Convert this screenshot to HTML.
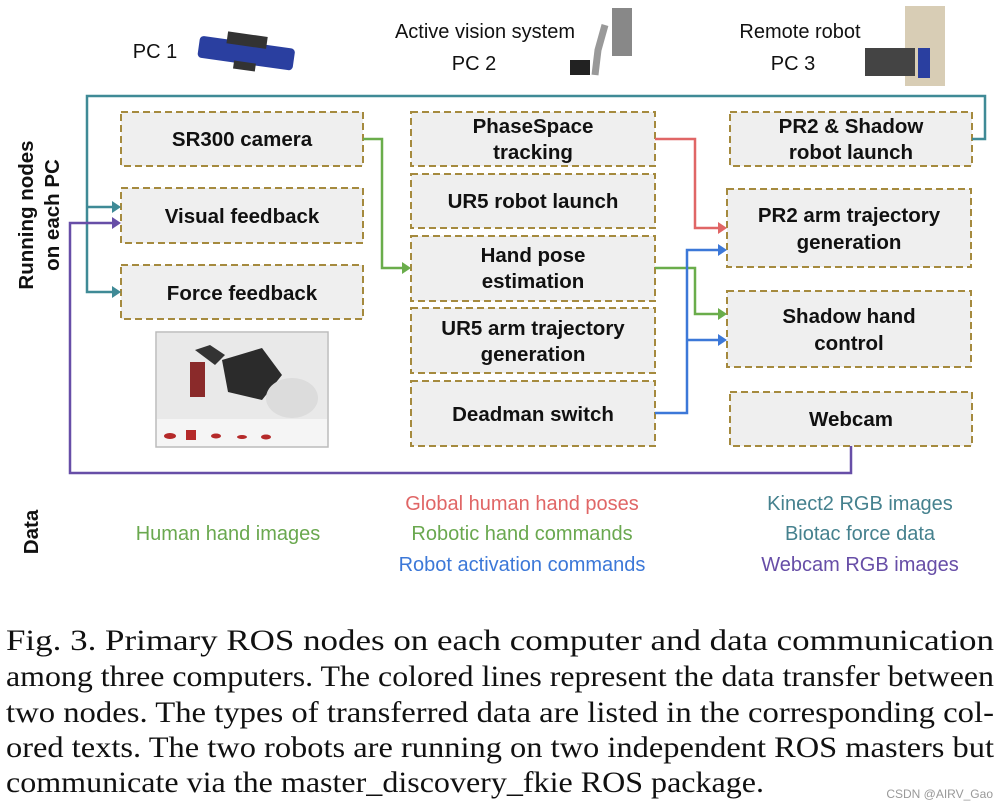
<!DOCTYPE html>
<html><head><meta charset="utf-8"><style>
html,body{margin:0;padding:0;background:#fff;}
svg{display:block;}
.b{fill:#efefef;stroke:#a58a3e;stroke-width:2;stroke-dasharray:7,4;}
.t{font-family:"Liberation Sans",sans-serif;font-weight:bold;font-size:20.5px;fill:#111;text-anchor:middle;}
.h{font-family:"Liberation Sans",sans-serif;font-size:20px;fill:#111;text-anchor:middle;}
.d{font-family:"Liberation Sans",sans-serif;font-size:20px;text-anchor:middle;}
.c{font-family:"Liberation Serif",serif;font-size:30px;fill:#111;}
.l{fill:none;stroke-width:2.5;}
</style></head><body>
<svg width="1003" height="807" viewBox="0 0 1003 807" xmlns="http://www.w3.org/2000/svg">
<!-- header -->
<text class="h" x="155" y="58">PC 1</text>
<g transform="rotate(8 245 55)"><rect x="198" y="42" width="96" height="22" rx="4" fill="#2a3fa0"/><rect x="225" y="34" width="40" height="12" fill="#333"/><rect x="235" y="62" width="22" height="8" fill="#333"/></g>
<text class="h" x="485" y="38">Active vision system</text>
<text class="h" x="474" y="70">PC 2</text>
<rect x="612" y="8" width="20" height="48" fill="#888"/>
<path d="M605,25 L598,50 L595,75" stroke="#999" stroke-width="7" fill="none"/>
<rect x="570" y="60" width="20" height="15" fill="#222"/>
<text class="h" x="800" y="38">Remote robot</text>
<text class="h" x="793" y="70">PC 3</text>
<rect x="905" y="6" width="40" height="80" fill="#d8cdb5"/>
<rect x="865" y="48" width="50" height="28" fill="#444"/>
<rect x="918" y="48" width="12" height="30" fill="#2a3fa0"/>
<!-- side label -->
<text class="t" transform="translate(33,215) rotate(-90)">Running nodes</text>
<text class="t" transform="translate(59,215) rotate(-90)">on each PC</text>
<!-- boxes -->
<rect class="b" x="121" y="112" width="242" height="54"/><text class="t" x="242" y="146">SR300 camera</text>
<rect class="b" x="121" y="188" width="242" height="55"/><text class="t" x="242" y="223">Visual feedback</text>
<rect class="b" x="121" y="265" width="242" height="54"/><text class="t" x="242" y="300">Force feedback</text>
<rect x="156" y="332" width="172" height="115" fill="#f5f5f5" stroke="#bbb" stroke-width="1.5"/>
<rect x="157" y="333" width="170" height="86" fill="#e9e9e9"/>
<path d="M195,350 L210,345 L225,355 L215,365 Z" fill="#333"/>
<rect x="190" y="362" width="15" height="35" fill="#8a2a2a"/>
<path d="M222,360 L262,348 L282,375 L262,400 L228,392 Z" fill="#2b2b2b"/>
<ellipse cx="292" cy="398" rx="26" ry="20" fill="#dcdcdc"/>
<ellipse cx="170" cy="436" rx="6" ry="3" fill="#b52a2a"/><rect x="186" y="430" width="10" height="10" fill="#b52a2a"/>
<ellipse cx="216" cy="436" rx="5" ry="2.5" fill="#b52a2a"/><ellipse cx="242" cy="437" rx="5" ry="2" fill="#b52a2a"/><ellipse cx="266" cy="437" rx="5" ry="2.5" fill="#b52a2a"/>

<rect class="b" x="411" y="112" width="244" height="54"/><text class="t" x="533" y="133">PhaseSpace</text><text class="t" x="533" y="159">tracking</text>
<rect class="b" x="411" y="174" width="244" height="54"/><text class="t" x="533" y="208">UR5 robot launch</text>
<rect class="b" x="411" y="236" width="244" height="65"/><text class="t" x="533" y="262">Hand pose</text><text class="t" x="533" y="288">estimation</text>
<rect class="b" x="411" y="308" width="244" height="65"/><text class="t" x="533" y="335">UR5 arm trajectory</text><text class="t" x="533" y="361">generation</text>
<rect class="b" x="411" y="381" width="244" height="65"/><text class="t" x="533" y="421">Deadman switch</text>

<rect class="b" x="730" y="112" width="242" height="54"/><text class="t" x="851" y="133">PR2 &amp; Shadow</text><text class="t" x="851" y="159">robot launch</text>
<rect class="b" x="727" y="189" width="244" height="78"/><text class="t" x="849" y="222">PR2 arm trajectory</text><text class="t" x="849" y="249">generation</text>
<rect class="b" x="727" y="291" width="244" height="76"/><text class="t" x="849" y="323">Shadow hand</text><text class="t" x="849" y="350">control</text>
<rect class="b" x="730" y="392" width="242" height="54"/><text class="t" x="851" y="426">Webcam</text>

<!-- connectors -->
<path class="l" stroke="#3f8a96" d="M972,139 L985,139 L985,96 L87,96 L87,292 L112,292 M87,207 L112,207"/>
<path d="M112,201 L121,207 L112,213Z M112,286 L121,292 L112,298Z" fill="#3f8a96"/>
<path class="l" stroke="#674ea7" d="M851,446 L851,473 L70,473 L70,223 L112,223"/>
<path d="M112,217 L121,223 L112,229Z" fill="#674ea7"/>
<path class="l" stroke="#6aad4b" d="M363,139 L382,139 L382,268 L402,268 M655,268 L695,268 L695,314 L718,314"/>
<path d="M402,262 L411,268 L402,274Z M718,308 L727,314 L718,320Z" fill="#6aad4b"/>
<path class="l" stroke="#e06666" d="M655,139 L695,139 L695,228 L718,228"/>
<path d="M718,222 L727,228 L718,234Z" fill="#e06666"/>
<path class="l" stroke="#3c78d8" d="M655,413 L687,413 L687,250 L718,250 M687,340 L718,340"/>
<path d="M718,244 L727,250 L718,256Z M718,334 L727,340 L718,346Z" fill="#3c78d8"/>

<!-- data -->
<text class="t" transform="translate(38,532) rotate(-90)">Data</text>
<text class="d" x="228" y="540" fill="#6aa84f">Human hand images</text>
<text class="d" x="522" y="510" fill="#e06666">Global human hand poses</text>
<text class="d" x="522" y="540" fill="#6aa84f">Robotic hand commands</text>
<text class="d" x="522" y="571" fill="#3c78d8">Robot activation commands</text>
<text class="d" x="860" y="510" fill="#45818e">Kinect2 RGB images</text>
<text class="d" x="860" y="540" fill="#45818e">Biotac force data</text>
<text class="d" x="860" y="571" fill="#674ea7">Webcam RGB images</text>

<!-- caption -->
<text class="c" x="6" y="650" textLength="988" lengthAdjust="spacingAndGlyphs">Fig. 3.    Primary ROS nodes on each computer and data communication</text>
<text class="c" x="6" y="686" textLength="988" lengthAdjust="spacingAndGlyphs">among three computers. The colored lines represent the data transfer between</text>
<text class="c" x="6" y="722" textLength="988" lengthAdjust="spacingAndGlyphs">two nodes. The types of transferred data are listed in the corresponding col-</text>
<text class="c" x="6" y="757" textLength="988" lengthAdjust="spacingAndGlyphs">ored texts. The two robots are running on two independent ROS masters but</text>
<text class="c" x="6" y="792" textLength="758" lengthAdjust="spacingAndGlyphs">communicate via the master_discovery_fkie ROS package.</text>
<text x="993" y="798" text-anchor="end" font-family="Liberation Sans,sans-serif" font-size="12" fill="#999">CSDN @AIRV_Gao</text>
</svg>
</body></html>
